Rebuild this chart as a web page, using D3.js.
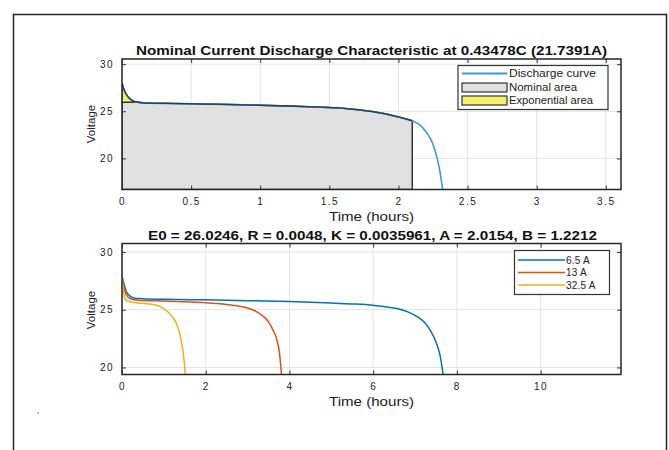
<!DOCTYPE html>
<html>
<head>
<meta charset="utf-8">
<script src="https://cdn.jsdelivr.net/npm/d3@7"></script>
<style>
  body { margin: 0; background: #fff; }
  svg { font-family: "Liberation Sans", Arial, sans-serif; }
</style>
</head>
<body>
<svg id="chart" width="669" height="450"></svg>
<script>
// ---- data ----
const nominalTime = [0, 0.01, 0.02, 0.04, 0.06, 0.08, 0.1, 0.15, 0.2, 0.4, 0.6, 0.8, 1.0, 1.2, 1.4, 1.6, 1.8, 1.9, 2.0, 2.05, 2.1, 2.15, 2.2, 2.25, 2.28, 2.3, 2.32];
const nominalVolt = [28.0, 27.5, 27.1, 26.6, 26.3, 26.1, 26.0, 25.9, 25.87, 25.82, 25.77, 25.71, 25.64, 25.56, 25.46, 25.32, 25.0, 24.75, 24.4, 24.2, 24.0, 23.6, 22.8, 21.5, 20.0, 18.6, 16.7];
const expEnd = { t: 0.1, v: 25.95 };   // end of exponential zone
const nomEnd = { t: 2.1, v: 24.0 };    // end of nominal zone

const currents = ["6.5 A", "13 A", "32.5 A"];
const time65 = [0, 0.05, 0.1, 0.2, 0.3, 0.5, 1, 2, 3, 4, 5, 5.5, 6, 6.4, 6.8, 7.0, 7.2, 7.35, 7.5, 7.6, 7.67];
const volt65 = [27.9, 27.2, 26.6, 26.15, 26.0, 25.95, 25.9, 25.85, 25.78, 25.7, 25.58, 25.5, 25.38, 25.2, 24.85, 24.5, 24.0, 23.3, 22.2, 21.0, 19.4];
const time13 = [0, 0.05, 0.1, 0.2, 0.4, 1, 1.5, 2, 2.5, 2.8, 3.0, 3.2, 3.4, 3.5, 3.6, 3.7, 3.76, 3.81];
const volt13 = [27.7, 26.9, 26.3, 25.95, 25.82, 25.75, 25.68, 25.6, 25.45, 25.3, 25.15, 24.85, 24.35, 23.95, 23.3, 22.4, 21.3, 19.4];
const time325 = [0, 0.03, 0.06, 0.1, 0.2, 0.5, 0.8, 1.0, 1.1, 1.2, 1.3, 1.38, 1.44, 1.48, 1.51];
const volt325 = [27.9, 26.8, 26.1, 25.8, 25.67, 25.55, 25.4, 25.1, 24.8, 24.4, 23.8, 22.9, 21.8, 20.7, 19.4];

const topXTicks = [0, 0.5, 1, 1.5, 2, 2.5, 3, 3.5];
const topYTicks = [20, 25, 30];
const botXTicks = [0, 2, 4, 6, 8, 10];
const botYTicks = [20, 25, 30];

const seriesColors = ["#0072BD", "#D95319", "#EDB120"];

const svg = d3.select("#chart");

// outer frame
svg.append("rect").attr("x", 13.5).attr("y", 14.5).attr("width", 653).attr("height", 450)
  .attr("fill", "none").attr("stroke", "#222").attr("stroke-width", 1.5);
svg.append("rect").attr("x", 37).attr("y", 412).attr("width", 2).attr("height", 2).attr("fill", "#bbb");

const L = 122, R = 621;

function makeAxes(cfg) {
  const g = svg.append("g");
  const x = d3.scaleLinear().domain(cfg.xDomain).range([L, R]);
  const y = d3.scaleLinear().domain(cfg.yDomain).range([cfg.bottom, cfg.top]);

  // grid
  g.selectAll(".gx").data(cfg.xTicks).join("line")
    .attr("x1", d => x(d)).attr("x2", d => x(d)).attr("y1", cfg.top).attr("y2", cfg.bottom)
    .attr("stroke", "#e3e3e3").attr("stroke-width", 1);
  g.selectAll(".gy").data(cfg.yTicks).join("line")
    .attr("y1", d => y(d)).attr("y2", d => y(d)).attr("x1", L).attr("x2", R)
    .attr("stroke", "#e3e3e3").attr("stroke-width", 1);

  const clipId = "clip" + Math.round(cfg.top);
  svg.append("clipPath").attr("id", clipId).append("rect")
    .attr("x", L).attr("y", cfg.top).attr("width", R - L).attr("height", cfg.bottom - cfg.top);
  const plot = svg.append("g").attr("clip-path", `url(#${clipId})`);

  // title (stretched to the width seen in the picture)
  svg.append("text").attr("x", cfg.titleX).attr("y", cfg.top - 4)
    .attr("font-weight", "bold").attr("font-size", 13)
    .attr("textLength", cfg.titleW).attr("lengthAdjust", "spacingAndGlyphs")
    .attr("fill", "#111").text(cfg.title);

  return { g, x, y, plot, cfg };
}

function finishAxes(ax) {
  const { x, y, cfg } = ax;
  const fr = svg.append("g");
  // tick axes (inward ticks, mirrored)
  fr.append("g").attr("transform", `translate(0,${cfg.bottom})`)
    .call(d3.axisBottom(x).tickValues(cfg.xTicks).tickSize(-4).tickPadding(8)
      .tickFormat(d3.format("~g")));
  fr.append("g").attr("transform", `translate(0,${cfg.top})`)
    .call(d3.axisTop(x).tickValues(cfg.xTicks).tickSize(-4).tickFormat(""));
  fr.append("g").attr("transform", `translate(${L},0)`)
    .call(d3.axisLeft(y).tickValues(cfg.yTicks).tickSize(-4).tickPadding(8));
  fr.append("g").attr("transform", `translate(${R},0)`)
    .call(d3.axisRight(y).tickValues(cfg.yTicks).tickSize(-4).tickFormat(""));
  fr.selectAll(".domain").remove();
  fr.selectAll(".tick line").attr("stroke", "#333");
  fr.selectAll(".tick text").attr("font-size", 10).attr("fill", "#222")
    .attr("letter-spacing", 1.5)
    .attr("font-family", "'Liberation Sans', Arial, sans-serif");

  fr.append("rect").attr("x", L).attr("y", cfg.top).attr("width", R - L).attr("height", cfg.bottom - cfg.top)
    .attr("fill", "none").attr("stroke", "#262626").attr("stroke-width", 1.5);

  svg.append("text").attr("x", 329).attr("y", cfg.bottom + 31)
    .attr("font-size", 12).attr("textLength", 85).attr("lengthAdjust", "spacingAndGlyphs")
    .attr("fill", "#222").text("Time (hours)");
  svg.append("text")
    .attr("transform", `translate(95,${cfg.labelY}) rotate(-90)`)
    .attr("text-anchor", "middle").attr("font-size", 11.5).attr("fill", "#222").text("Voltage");
}

// ---------- top panel ----------
const topAx = makeAxes({
  xDomain: [0, 3.61], yDomain: [16.7, 30.55], top: 59, bottom: 189.5,
  xTicks: topXTicks, yTicks: topYTicks, labelY: 124,
  titleX: 136, titleW: 471,
  title: "Nominal Current Discharge Characteristic at 0.43478C (21.7391A)"
});

const nomPts = nominalTime.map((t, i) => [t, nominalVolt[i]]);
const y0 = topAx.y.domain()[0];

// nominal area polygon
const nomPoly = [[0, y0], [0, expEnd.v]]
  .concat(nomPts.filter(p => p[0] >= expEnd.t && p[0] <= nomEnd.t))
  .concat([[nomEnd.t, y0]]);
const poly = d3.line().x(d => topAx.x(d[0])).y(d => topAx.y(d[1]));
topAx.plot.append("path").attr("d", poly(nomPoly) + "Z")
  .attr("fill", "#e1e1e1").attr("stroke", "#333").attr("stroke-width", 1.5);

// exponential area polygon
const expPoly = [[0, expEnd.v]].concat(nomPts.filter(p => p[0] <= expEnd.t));
topAx.plot.append("path").attr("d", poly(expPoly) + "Z")
  .attr("fill", "#f4f06a").attr("stroke", "#222").attr("stroke-width", 1.2);

// discharge curve
const lineT = d3.line().x(d => topAx.x(d[0])).y(d => topAx.y(d[1])).curve(d3.curveMonotoneX);
topAx.plot.append("path").datum(nomPts).attr("d", lineT)
  .attr("fill", "none").attr("stroke", "#3d9ad8").attr("stroke-width", 1.6);
// dark outline over nominal zone
topAx.plot.append("path").datum(nomPts.filter(p => p[0] <= nomEnd.t)).attr("d", lineT)
  .attr("fill", "none").attr("stroke", "#1c2a33").attr("stroke-width", 1.3).attr("opacity", 0.8);

finishAxes(topAx);

// legend top
const lg1 = svg.append("g");
lg1.append("rect").attr("x", 458).attr("y", 65.5).attr("width", 150).attr("height", 44)
  .attr("fill", "#fff").attr("stroke", "#333").attr("stroke-width", 1.2);
lg1.append("line").attr("x1", 462).attr("x2", 507).attr("y1", 73.5).attr("y2", 73.5)
  .attr("stroke", "#3d9ad8").attr("stroke-width", 2);
lg1.append("rect").attr("x", 462).attr("y", 83).attr("width", 45).attr("height", 9)
  .attr("fill", "#e1e1e1").attr("stroke", "#333").attr("stroke-width", 1.2);
lg1.append("rect").attr("x", 462).attr("y", 96).attr("width", 45).attr("height", 9)
  .attr("fill", "#f4f06a").attr("stroke", "#333").attr("stroke-width", 1.2);
[["Discharge curve", 73.5, 87], ["Nominal area", 87.5, 68], ["Exponential area", 100.5, 84]].forEach(([t, yy, w]) => {
  lg1.append("text").attr("x", 509).attr("y", yy).attr("dy", "0.35em")
    .attr("font-size", 10).attr("textLength", w).attr("lengthAdjust", "spacingAndGlyphs")
    .attr("fill", "#222").text(t);
});

// ---------- bottom panel ----------
const botAx = makeAxes({
  xDomain: [0, 11.92], yDomain: [19.39, 30.73], top: 243.5, bottom: 374.5,
  xTicks: botXTicks, yTicks: botYTicks, labelY: 310,
  titleX: 148, titleW: 449,
  title: "E0 = 26.0246, R = 0.0048, K = 0.0035961, A = 2.0154, B = 1.2212"
});

const seriesT = [time65, time13, time325];
const seriesV = [volt65, volt13, volt325];
const lineB = d3.line().x(d => botAx.x(d[0])).y(d => botAx.y(d[1])).curve(d3.curveMonotoneX);
seriesT.forEach((ts, k) => {
  const pts = ts.map((t, i) => [t, seriesV[k][i]]);
  botAx.plot.append("path").datum(pts).attr("d", lineB)
    .attr("fill", "none").attr("stroke", seriesColors[k]).attr("stroke-width", 1.5);
});

finishAxes(botAx);

// legend bottom
const lg2 = svg.append("g");
lg2.append("rect").attr("x", 514.5).attr("y", 250.5).attr("width", 95).attr("height", 44)
  .attr("fill", "#fff").attr("stroke", "#333").attr("stroke-width", 1.2);
currents.forEach((c, k) => {
  const yy = 260 + k * 12.5;
  lg2.append("line").attr("x1", 518).attr("x2", 565).attr("y1", yy).attr("y2", yy)
    .attr("stroke", seriesColors[k]).attr("stroke-width", 1.6);
  lg2.append("text").attr("x", 566).attr("y", yy).attr("dy", "0.35em")
    .attr("font-size", 10).attr("fill", "#222").attr("letter-spacing", 0.2).text(c);
});
</script>
</body>
</html>
